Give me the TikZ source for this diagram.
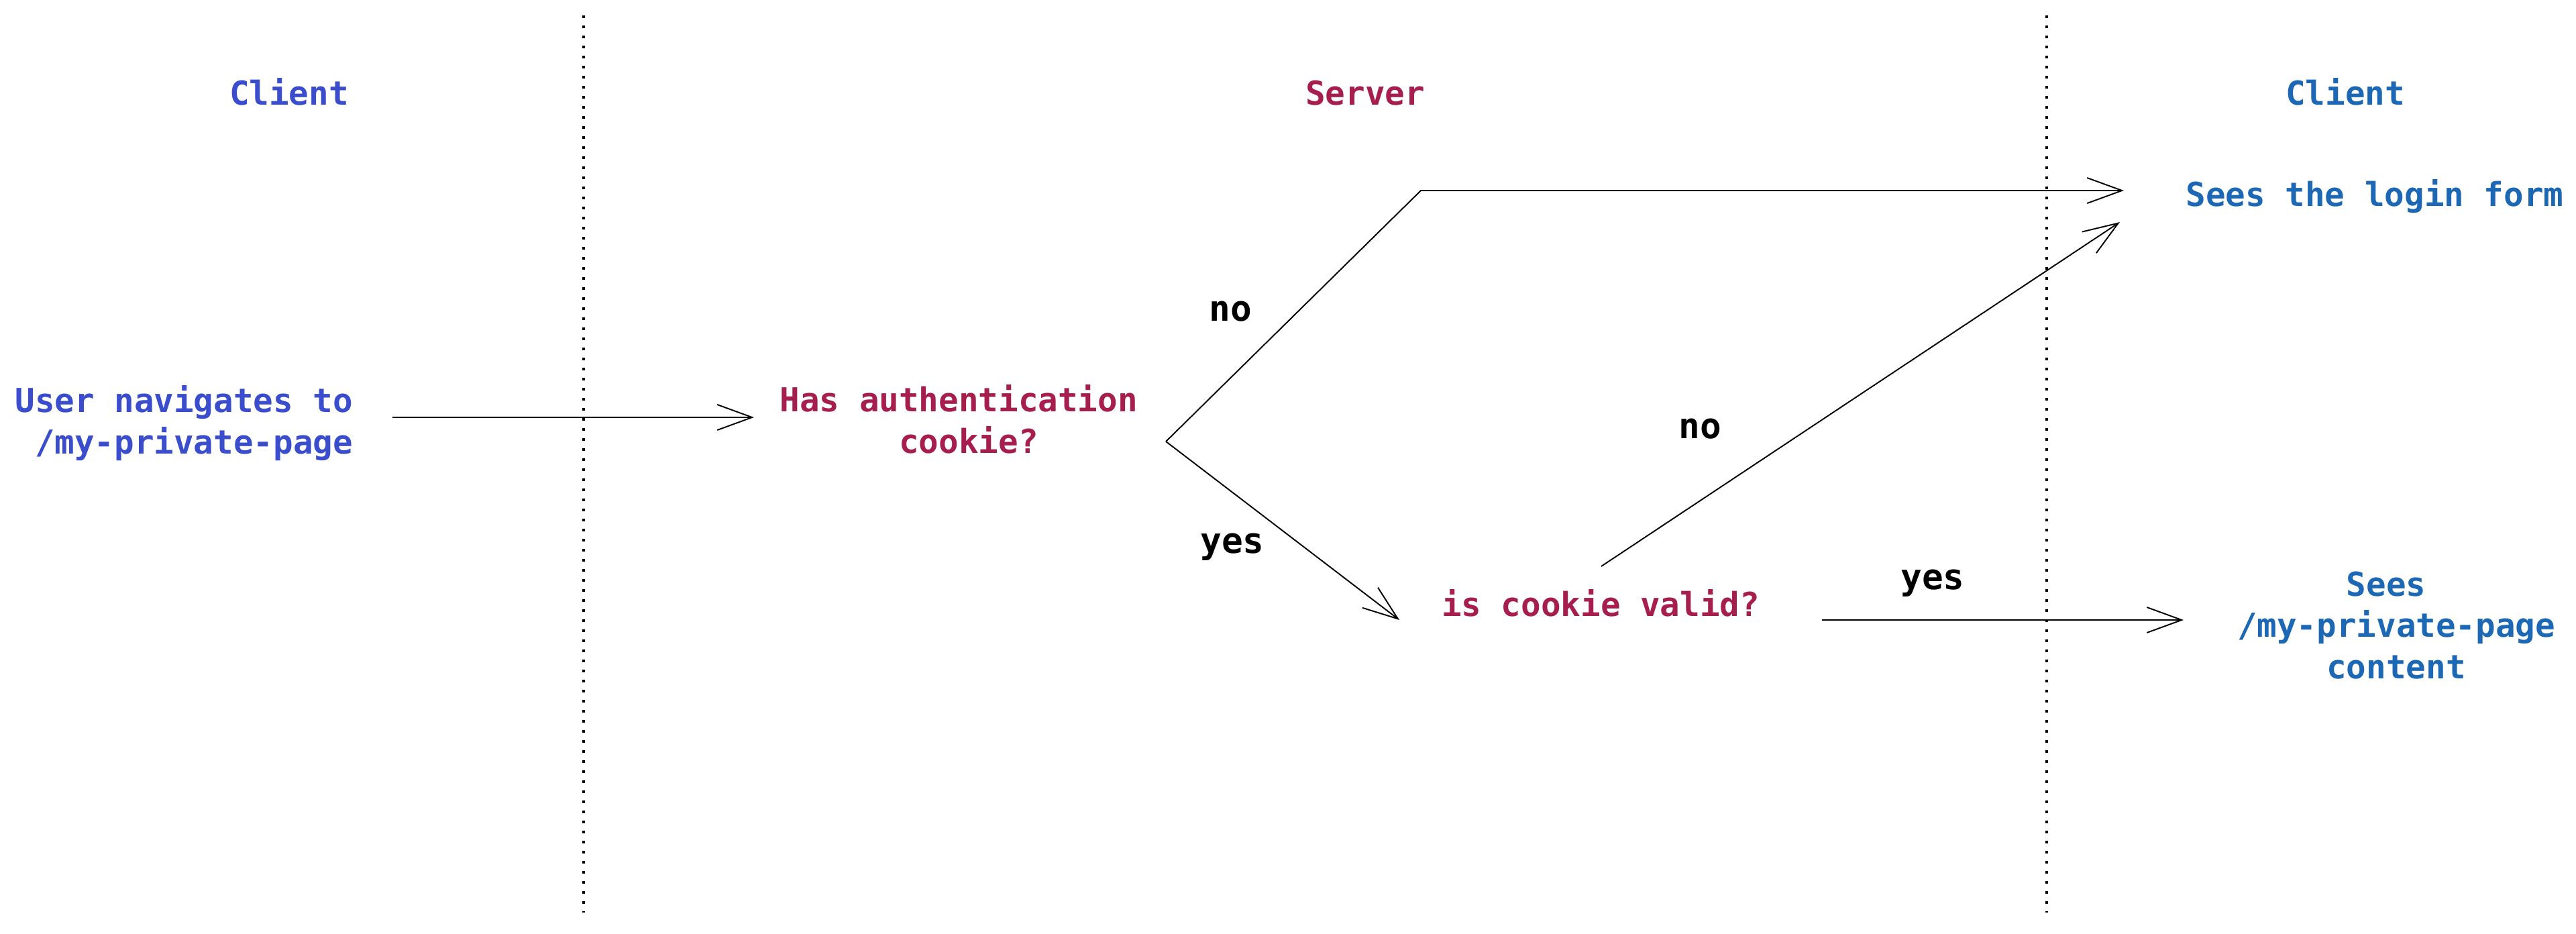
\documentclass[tikz,border=0pt]{standalone}
\usepackage{fontspec}
\setmonofont{DejaVu Sans Mono}
\usetikzlibrary{arrows.meta}
\definecolor{clientblue}{HTML}{3A4DCC}
\definecolor{serverred}{HTML}{A61E4D}
\definecolor{viewblue}{HTML}{1C68B4}
\tikzset{
  txt/.style={inner sep=0pt, anchor=base, align=center,
    font=\fontsize{14pt}{17.4pt}\selectfont\ttfamily\bfseries},
  lbl/.style={inner sep=0pt, anchor=base,
    font=\fontsize{15pt}{18pt}\selectfont\ttfamily\bfseries},
  arr/.style={-{Straight Barb[length=5.2mm,width=3.8mm]}, line width=0.55pt},
  sep/.style={dash pattern=on 0.4mm off 1.1mm, line width=0.9pt}
}
\begin{document}
\begin{tikzpicture}
    \useasboundingbox (0,0) rectangle (38.4,-13.92);
    % dividers
    \draw[sep] (8.70,-0.23)--(8.70,-13.60);
    \draw[sep] (30.51,-0.23)--(30.51,-13.60);
    % headings
    \node[txt,text=clientblue] (clientL) at (4.31,-1.57) {Client};
    \node[txt,text=serverred] (server) at (20.35,-1.57) {Server};
    \node[txt,text=viewblue] (clientR) at (34.96,-1.57) {Client};
    % steps (base = last line)
    \node[txt,text=clientblue] (user) at (2.89,-6.76) {User navigates to\hphantom{x}\\/my-private-page};
    \node[txt,text=serverred] (hasauth) at (14.44,-6.75) {Has authentication\hphantom{x}\\cookie?};
    \node[txt,text=serverred] (valid) at (23.86,-9.18) {is cookie valid?};
    \node[txt,text=viewblue] (login) at (35.40,-3.08) {Sees the login form};
    \node[txt,text=viewblue] (sees) at (35.72,-10.11) {Sees\hphantom{x}\\/my-private-page\\content};
    % arrow ends
    \coordinate (userout) at (5.85,-6.22);
    \coordinate (authin) at (11.24,-6.22);
    \coordinate (fork) at (17.38,-6.58);
    \coordinate (corner) at (21.18,-2.84);
    \coordinate (loginin) at (31.66,-2.84);
    \coordinate (loginin2) at (31.60,-3.31);
    \coordinate (validin) at (20.86,-9.24);
    \coordinate (validup) at (23.87,-8.44);
    \coordinate (validout) at (27.16,-9.24);
    \coordinate (seesin) at (32.55,-9.24);
    \draw[arr] (userout)--(authin);
    \draw[arr] (fork)--(corner)--(loginin);
    \draw[arr] (fork)--(validin);
    \draw[arr] (validup)--(loginin2);
    \draw[arr] (validout)--(seesin);
    % branch labels
    \node[lbl] (no1) at (18.34,-4.78) {no};
    \node[lbl] (yes1) at (18.37,-8.24) {yes};
    \node[lbl] (no2) at (25.34,-6.53) {no};
    \node[lbl] (yes2) at (28.81,-8.78) {yes};
\end{tikzpicture}
\end{document}
